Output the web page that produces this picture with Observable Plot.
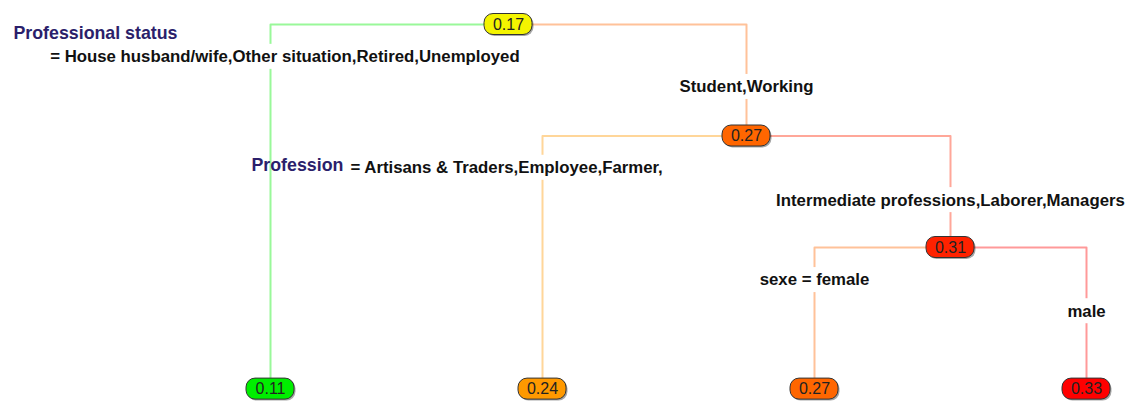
<!DOCTYPE html>
<html>
<head>
<meta charset="utf-8">
<script src="https://cdn.jsdelivr.net/npm/d3@7"></script>
<script src="https://cdn.jsdelivr.net/npm/@observablehq/plot@0.6"></script>
<style>
  html, body { margin: 0; padding: 0; background: #fff; }
  svg { display: block; }
  g[aria-label="shadow"] rect { filter: blur(1.2px); }
</style>
</head>
<body>
<div id="chart"></div>
<script>
// ---------------- data ----------------
const internalIds   = ["n1", "n2", "n3"];
const leftChild     = ["l1", "l2", "l3"];
const rightChild    = ["n2", "n3", "l4"];
const leafOrder     = ["l1", "l2", "l3", "l4"];
const nodeIds       = ["n1", "n2", "n3", "l1", "l2", "l3", "l4"];
const nodeValues    = [0.17, 0.27, 0.31, 0.11, 0.24, 0.27, 0.33];
const nodeLabels    = ["0.17", "0.27", "0.31", "0.11", "0.24", "0.27", "0.33"];
const splitVarNames = ["Professional status", "Profession", null];
const leftLabels    = ["= House husband/wife,Other situation,Retired,Unemployed",
                       "= Artisans & Traders,Employee,Farmer,",
                       "sexe = female"];
const rightLabels   = ["Student,Working",
                       "Intermediate professions,Laborer,Managers",
                       "male"];
const colorStops    = [0.11, 0.17, 0.24, 0.33];
const colorRange    = ["#00ee00", "#f4f400", "#ff9900", "#ff0000"];

// ---------------- layout ----------------
const FONT = "'Liberation Sans', Arial, sans-serif";
const LABEL_SIZE = 16.8;
const LEAF_LEVEL = 3.27;
const X_RANGE = [270, 1086], Y_RANGE = [24, 135.5];
const pxPerX = (X_RANGE[1] - X_RANGE[0]) / 3;
const pxPerY = (Y_RANGE[1] - Y_RANGE[0]) / 1;
const colorOf = d3.scaleLinear().domain(colorStops).range(colorRange);
const lighten = c => d3.interpolateRgb(c, "#ffffff")(0.6);

const pos = {};
function place(id, depth) {
  const k = internalIds.indexOf(id);
  if (k < 0) {
    pos[id] = {x: leafOrder.indexOf(id), y: LEAF_LEVEL};
  } else {
    place(leftChild[k], depth + 1);
    place(rightChild[k], depth + 1);
    pos[id] = {x: (pos[leftChild[k]].x + pos[rightChild[k]].x) / 2, y: depth};
  }
}
place("n1", 0);

const nodes = nodeIds.map((id, i) => ({
  id, x: pos[id].x, y: pos[id].y, label: nodeLabels[i], color: colorOf(nodeValues[i])
}));
const nodeById = Object.fromEntries(nodes.map(n => [n.id, n]));

const edgePts = [];
internalIds.forEach((pid, k) => {
  const p = nodeById[pid];
  [leftChild[k], rightChild[k]].forEach(cid => {
    const c = nodeById[cid];
    const col = lighten(c.color);
    const e = pid + "-" + cid;
    edgePts.push({e, x: p.x, y: p.y, col}, {e, x: c.x, y: p.y, col}, {e, x: c.x, y: c.y, col});
  });
});

// label placement (tree units)
const varLabels = [
  {text: splitVarNames[0], x: -0.945, y: 0.08},
  {text: splitVarNames[1], x: -0.07, y: 1.26}
];
const startLabels = [
  {text: leftLabels[0], x: -0.81, y: 0.29},
  {text: leftLabels[1], x: 0.294, y: 1.285}
];
const midLabels = [
  {text: rightLabels[0], x: nodeById["n2"].x, y: 0.56},
  {text: rightLabels[1], x: nodeById["n3"].x, y: 1.575},
  {text: leftLabels[2], x: nodeById["l3"].x, y: 2 + 0.23 * (LEAF_LEVEL - 2)},
  {text: rightLabels[2], x: nodeById["l4"].x, y: 2 + 0.45 * (LEAF_LEVEL - 2)}
];

// white backing boxes measured from the label text
const ctx = document.createElement("canvas").getContext("2d");
ctx.font = `bold ${LABEL_SIZE}px ${FONT}`;
const PAD = 3, HALF_H = 12.5;
const backs = [
  ...startLabels.map(d => {
    const w = ctx.measureText(d.text).width;
    return {x1: d.x - PAD / pxPerX, x2: d.x + (w + PAD) / pxPerX,
            y1: d.y - HALF_H / pxPerY, y2: d.y + HALF_H / pxPerY};
  }),
  ...midLabels.map(d => {
    const w = ctx.measureText(d.text).width;
    return {x1: d.x - (w / 2 + PAD) / pxPerX, x2: d.x + (w / 2 + PAD) / pxPerX,
            y1: d.y - HALF_H / pxPerY, y2: d.y + HALF_H / pxPerY};
  })
];

const svg = Plot.plot({
  width: 1128,
  height: 401,
  margin: 0,
  style: {fontFamily: FONT, background: "#fff"},
  x: {domain: [0, 3], range: X_RANGE, axis: null},
  y: {domain: [0, 1], range: Y_RANGE, axis: null},
  color: {type: "identity"},
  marks: [
    Plot.line(edgePts, {x: "x", y: "y", z: "e", stroke: "col", strokeWidth: 2}),
    Plot.rect(backs, {x1: "x1", x2: "x2", y1: "y1", y2: "y2", fill: "#fff"}),
    Plot.text(varLabels, {x: "x", y: "y", text: "text", textAnchor: "start",
      fontSize: 17.8, fontWeight: "bold", fill: "#2b1f6b"}),
    Plot.text(startLabels, {x: "x", y: "y", text: "text", textAnchor: "start",
      fontSize: LABEL_SIZE, fontWeight: "bold", fill: "#111"}),
    Plot.text(midLabels, {x: "x", y: "y", text: "text", textAnchor: "middle",
      fontSize: LABEL_SIZE, fontWeight: "bold", fill: "#111"}),
    Plot.rect(nodes, {x1: "x", x2: "x", y1: "y", y2: "y",
      insetLeft: -24, insetRight: -24, insetTop: -10.5, insetBottom: -10.5,
      dx: 1.5, dy: 1.5, rx: 9, fill: "#000", fillOpacity: 0.35, ariaLabel: "shadow"}),
    Plot.rect(nodes, {x1: "x", x2: "x", y1: "y", y2: "y",
      insetLeft: -24, insetRight: -24, insetTop: -10.5, insetBottom: -10.5,
      rx: 9, fill: "color", stroke: "#333", strokeWidth: 1}),
    Plot.text(nodes, {x: "x", y: "y", text: "label", fontSize: 16, fill: "#222"})
  ]
});
document.getElementById("chart").append(svg);
</script>
</body>
</html>
